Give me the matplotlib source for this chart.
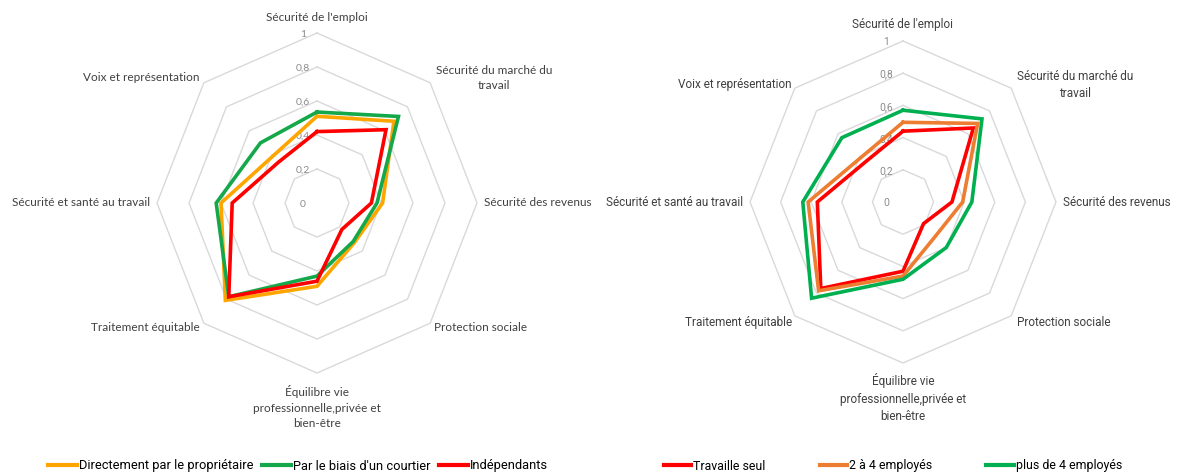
import numpy as np
import matplotlib
matplotlib.use("Agg")
import matplotlib.pyplot as plt
from matplotlib.lines import Line2D

# Dimensions (axes), clockwise from the top
categories = [
    "Sécurité de l'emploi",
    "Sécurité du marché du\ntravail",
    "Sécurité des revenus",
    "Protection sociale",
    "Équilibre vie\nprofessionnelle,privée et\nbien-être",
    "Traitement équitable",
    "Sécurité et santé au travail",
    "Voix et représentation",
]

# Left chart: recruitment channel
left_names = ["Directement par le propriétaire", "Par le biais d'un courtier", "Indépendants"]
directement = [0.51, 0.68, 0.41, 0.33, 0.49, 0.81, 0.60, 0.39]
courtier = [0.535, 0.72, 0.375, 0.32, 0.43, 0.78, 0.63, 0.50]
independants = [0.42, 0.61, 0.34, 0.22, 0.46, 0.78, 0.53, 0.34]

# Right chart: size of the business
right_names = ["Travaille seul", "2 à 4 employés", "plus de 4 employés"]
seul = [0.44, 0.65, 0.32, 0.19, 0.43, 0.76, 0.56, 0.35]
deux_quatre = [0.495, 0.69, 0.39, 0.30, 0.46, 0.78, 0.62, 0.39]
plus_quatre = [0.57, 0.73, 0.45, 0.40, 0.48, 0.845, 0.655, 0.565]

ring_levels = [0.2, 0.4, 0.6, 0.8, 1.0]
tick_levels = [0, 0.2, 0.4, 0.6, 0.8, 1.0]
tick_labels = ["0", "0,2", "0,4", "0,6", "0,8", "1"]

LEFT_COLORS = ["#FFA500", "#14A84A", "#FF0000"]
RIGHT_COLORS = ["#FF0000", "#ED7D31", "#00B050"]
GRID = "#D9D9D9"
TEXT = "#404040"
TICK = "#8C8C8C"

FONT_L = ["Lato", "DejaVu Sans"]
FONT_R = ["Roboto", "DejaVu Sans"]

n = len(categories)
angles = np.linspace(0, 2 * np.pi, n, endpoint=False)
closed = np.append(angles, angles[0])

fig = plt.figure(figsize=(11.87, 4.76), dpi=100)
fig.patch.set_facecolor("white")


def radar(rect, series, colors, label_pos, font, tick_dx):
    ax = fig.add_axes(rect, projection="polar")
    ax.set_theta_zero_location("N")
    ax.set_theta_direction(-1)
    ax.set_ylim(0, 1)
    ax.set_aspect("auto")
    ax.grid(False)
    ax.spines["polar"].set_visible(False)
    ax.set_xticks([])
    ax.set_yticks([])
    ax.patch.set_alpha(0)

    for r in ring_levels:
        ax.plot(closed, [r] * (n + 1), color=GRID, lw=1.0, zorder=1, clip_on=False)

    for v, lab in zip(tick_levels, tick_labels):
        ax.annotate(lab, xy=(0, v), xytext=(tick_dx, -1), textcoords="offset points",
                    ha="center", va="center", fontsize=7.5, color=TICK,
                    family=font, zorder=2, annotation_clip=False)

    for vals, col in zip(series, colors):
        v = np.append(vals, vals[0])
        ax.plot(closed, v, color=col, lw=2.6, zorder=3, clip_on=False,
                solid_joinstyle="miter")

    for text, (x, y, ha) in zip(categories, label_pos):
        ax.text(x, y, text, transform=ax.transAxes, ha=ha, va="center",
                multialignment="center", fontsize=8.5, color=TEXT, family=font,
                linespacing=1.45)
    return ax


left_labels = [
    (0.5, 1.047, "center"),
    (1.053, 0.868, "center"),
    (1.022, 0.5, "left"),
    (0.866, 0.135, "left"),
    (0.5, -0.10, "center"),
    (0.134, 0.135, "right"),
    (-0.022, 0.5, "right"),
    (0.134, 0.868, "right"),
]
right_labels = [
    (0.5, 1.05, "center"),
    (1.062, 0.863, "center"),
    (1.023, 0.5, "left"),
    (0.873, 0.127, "left"),
    (0.5, -0.109, "center"),
    (0.137, 0.127, "right"),
    (-0.023, 0.5, "right"),
    (0.137, 0.866, "right"),
]

W, H = 1187.0, 476.0
radar([(317 - 160) / W, (H - 203 - 170) / H, 320 / W, 340 / H],
      [directement, courtier, independants], LEFT_COLORS, left_labels, FONT_L, -10)
radar([(903 - 153) / W, (H - 202 - 161) / H, 306 / W, 322 / H],
      [seul, deux_quatre, plus_quatre], RIGHT_COLORS, right_labels, FONT_R, -12)

# Legends
lh = [Line2D([], [], color=c, lw=3) for c in LEFT_COLORS]
fig.legend(lh, left_names, loc="center", bbox_to_anchor=(298 / W, 1 - 466 / H),
           ncol=3, frameon=False, handlelength=2.3, handletextpad=0.15,
           columnspacing=0.6, prop={"family": FONT_R, "size": 9.3})

rh = [Line2D([], [], color=c, lw=3) for c in RIGHT_COLORS]
fig.legend(rh, right_names, loc="center", bbox_to_anchor=(893 / W, 1 - 466 / H),
           ncol=3, frameon=False, handlelength=2.2, handletextpad=0.15,
           columnspacing=4.4, prop={"family": FONT_R, "size": 8.9})

fig.savefig("out.png", dpi=100, facecolor="white")
